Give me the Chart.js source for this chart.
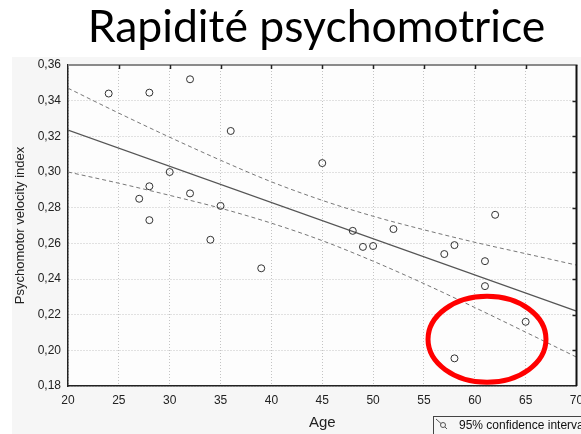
<!DOCTYPE html>
<html><head><meta charset="utf-8">
<script src="https://cdn.jsdelivr.net/npm/chart.js@4/dist/chart.umd.min.js"></script>
<style>html,body{margin:0;padding:0;background:#fff;overflow:hidden}#wrap{width:581px;height:434px;position:relative}canvas{display:block}</style>
</head><body><div id="wrap"><canvas id="c" width="581" height="434"></canvas></div>
<script>
const TITLE = 'Rapidité psychomotrice';
const X_TITLE = 'Age';
const Y_TITLE = 'Psychomotor velocity index';
const LEGEND_LABEL = '95% confidence interval';

const ages      = [24, 28, 32, 36, 30, 28, 27, 32, 35, 28, 34, 39, 45, 48, 52, 62, 49, 50, 58, 57, 61, 61, 65, 58];
const velocity  = [0.344, 0.3445, 0.352, 0.323, 0.300, 0.292, 0.285, 0.288, 0.281, 0.273, 0.262, 0.246, 0.305, 0.267, 0.268, 0.276, 0.258, 0.2585, 0.259, 0.254, 0.250, 0.236, 0.216, 0.1955];

const fitAges   = [20, 70];
const fitValues = [0.3235, 0.222];

const ciAges    = [20, 25, 30, 35, 40, 45, 50, 55, 60, 65, 70];
const ciUpper   = [0.347, 0.333, 0.3195, 0.3066, 0.2945, 0.2841, 0.2752, 0.2676, 0.2606, 0.2542, 0.2478];
const ciLower   = [0.300, 0.2937, 0.2869, 0.2797, 0.2713, 0.2615, 0.250, 0.2374, 0.224, 0.2102, 0.1962];

const xTicks = [20, 25, 30, 35, 40, 45, 50, 55, 60, 65, 70];
const yTicks = [0.18, 0.20, 0.22, 0.24, 0.26, 0.28, 0.30, 0.32, 0.34, 0.36];

const highlightAge = 61.2, highlightValue = 0.2062, highlightAgeRadius = 5.8, highlightValueRadius = 0.0241;

const pts = (xs, ys) => xs.map((x, i) => ({x: x, y: ys[i]}));
const TICK_FONT = {family: '"Liberation Sans", Arial, sans-serif', size: 12};

const bgPlugin = {
  id: 'bg',
  beforeDraw(chart) {
    const {ctx, chartArea: a} = chart;
    ctx.save();
    ctx.fillStyle = '#ffffff';
    ctx.fillRect(0, 0, chart.width, chart.height);
    ctx.fillStyle = '#f6f6f6';
    ctx.fillRect(12, 57, chart.width - 12, chart.height - 57);
    ctx.fillStyle = '#fdfdfd';
    ctx.fillRect(a.left, a.top, a.right - a.left, a.bottom - a.top);
    ctx.fillStyle = '#000';
    ctx.font = '44.5px Lato, "Open Sans", sans-serif';
    ctx.textAlign = 'center';
    ctx.textBaseline = 'alphabetic';
    ctx.fillText(TITLE, 316.5, 42);
    ctx.restore();
  }
};

const framePlugin = {
  id: 'frame',
  afterDraw(chart) {
    const {ctx, chartArea: a, scales: {x, y}} = chart;
    ctx.save();
    ctx.strokeStyle = '#8a8a8a'; ctx.lineWidth = 2;
    ctx.beginPath(); ctx.moveTo(a.left, a.top); ctx.lineTo(a.right + 1, a.top); ctx.stroke();
    ctx.strokeStyle = '#111'; ctx.lineWidth = 2;
    ctx.beginPath(); ctx.moveTo(a.right, a.top); ctx.lineTo(a.right, a.bottom); ctx.stroke();
    ctx.lineWidth = 1.5; ctx.strokeStyle = '#222';
    xTicks.slice(1, -1).forEach(v => {
      const px = Math.round(x.getPixelForValue(v)) + 0.5;
      ctx.beginPath(); ctx.moveTo(px, a.top); ctx.lineTo(px, a.top + 4); ctx.stroke();
    });
    yTicks.slice(1, -1).forEach(v => {
      const py = Math.round(y.getPixelForValue(v)) + 0.5;
      ctx.beginPath(); ctx.moveTo(a.right, py); ctx.lineTo(a.right - 4, py); ctx.stroke();
    });
    const cx = x.getPixelForValue(highlightAge), cy = y.getPixelForValue(highlightValue);
    const rx = Math.abs(x.getPixelForValue(highlightAge + highlightAgeRadius) - cx);
    const ry = Math.abs(y.getPixelForValue(highlightValue + highlightValueRadius) - cy);
    ctx.strokeStyle = '#ff0000'; ctx.lineWidth = 5;
    ctx.beginPath(); ctx.ellipse(cx, cy, rx, ry, 0, 0, Math.PI * 2); ctx.stroke();
    ctx.strokeStyle = '#444'; ctx.lineWidth = 1;
    ctx.strokeRect(433.5, 416.5, 170, 30);
    ctx.strokeStyle = '#555';
    ctx.beginPath(); ctx.moveTo(436, 419); ctx.lineTo(441, 423.5); ctx.stroke();
    ctx.beginPath(); ctx.arc(443, 425, 2.5, 0, Math.PI * 2); ctx.stroke();
    ctx.beginPath(); ctx.moveTo(445, 427); ctx.lineTo(447, 429); ctx.stroke();
    ctx.fillStyle = '#111';
    ctx.font = '12px "Liberation Sans", Arial, sans-serif';
    ctx.textAlign = 'left'; ctx.textBaseline = 'middle';
    ctx.fillText(LEGEND_LABEL, 459, 426);
    ctx.restore();
  }
};

new Chart(document.getElementById('c'), {
  type: 'scatter',
  data: {
    datasets: [
      {label: 'Observed', data: pts(ages, velocity), pointRadius: 3.5, pointHoverRadius: 3.5,
       borderColor: '#333', backgroundColor: 'rgba(255,255,255,0)', borderWidth: 1, order: 0},
      {label: 'Fit', data: pts(fitAges, fitValues), showLine: true, pointRadius: 0,
       borderColor: '#555', borderWidth: 1.2, order: 1},
      {label: LEGEND_LABEL, data: pts(ciAges, ciUpper), showLine: true, pointRadius: 0,
       borderColor: '#777', borderWidth: 1, borderDash: [4, 3], cubicInterpolationMode: 'monotone', order: 2},
      {label: LEGEND_LABEL + ' ', data: pts(ciAges, ciLower), showLine: true, pointRadius: 0,
       borderColor: '#777', borderWidth: 1, borderDash: [4, 3], cubicInterpolationMode: 'monotone', order: 2}
    ]
  },
  options: {
    responsive: false, animation: false, devicePixelRatio: 1,
    layout: {padding: {left: 12, top: 65, right: 3, bottom: 0}},
    plugins: {legend: {display: false}, tooltip: {enabled: false}, title: {display: false}},
    scales: {
      x: {
        type: 'linear', min: 20, max: 70,
        afterBuildTicks: s => { s.ticks = xTicks.map(v => ({value: v})); },
        afterFit: s => { s.height = 48; s.paddingLeft = 0; s.paddingRight = 0; },
        ticks: {font: TICK_FONT, color: '#222', padding: 7, maxRotation: 0, autoSkip: false},
        grid: {color: '#c4c4c4', lineWidth: 1, drawTicks: false},
        border: {display: true, color: '#222', width: 1.5, dash: [1, 2]},
        title: {display: true, text: X_TITLE, color: '#222',
                font: {family: '"Liberation Sans", Arial, sans-serif', size: 15}, padding: {top: 0, bottom: 2}}
      },
      y: {
        type: 'linear', min: 0.18, max: 0.36,
        afterBuildTicks: s => { s.ticks = yTicks.map(v => ({value: v})); },
        afterFit: s => { s.width = 56; s.paddingTop = 0; s.paddingBottom = 0; },
        ticks: {font: TICK_FONT, color: '#222', padding: 7,
                callback: v => Number(v).toFixed(2).replace('.', ',')},
        grid: {color: '#c4c4c4', lineWidth: 1, drawTicks: false},
        border: {display: true, color: '#222', width: 1.5, dash: [1, 2]},
        title: {display: true, text: Y_TITLE, color: '#222',
                font: {family: '"Liberation Sans", Arial, sans-serif', size: 13}, padding: {top: 1, bottom: 0}}
      }
    }
  },
  plugins: [bgPlugin, framePlugin]
});
</script>
</body></html>
